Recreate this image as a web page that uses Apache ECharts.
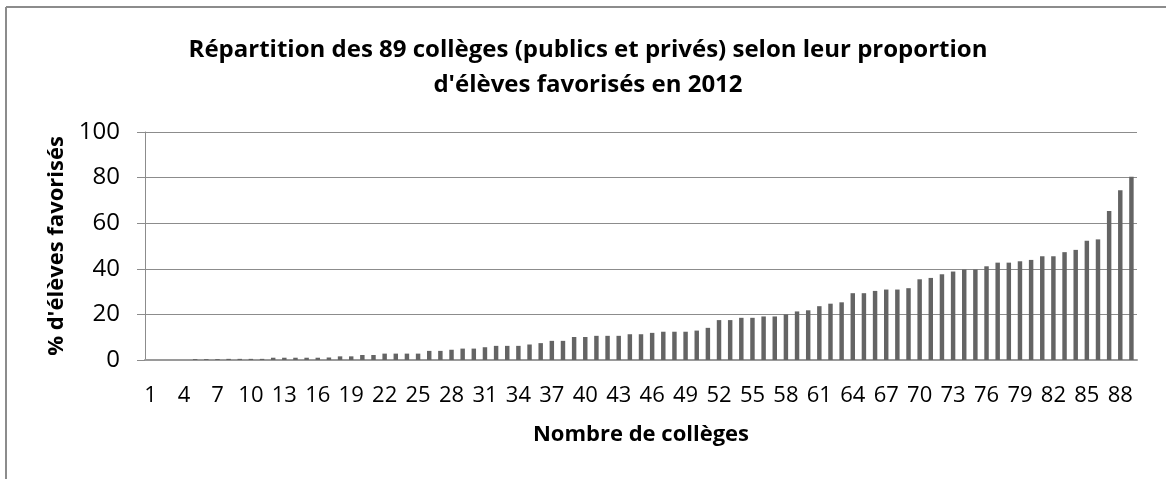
<!DOCTYPE html>
<html>
<head>
<meta charset="utf-8">
<script src="https://cdn.jsdelivr.net/npm/echarts@6/dist/echarts.min.js"></script>
<style>
html,body{margin:0;padding:0;background:#fff;}
#chart{width:1166px;height:479px;}
</style>
</head>
<body>
<div id="chart"></div>
<script>
const categories = [];
for (let i = 1; i <= 89; i++) categories.push(String(i));

const values = [
  0, 0, 0, 0, 0.4, 0.4, 0.4, 0.5, 0.5, 0.5,
  0.5, 1.0, 1.0, 1.0, 1.0, 1.0, 1.1, 1.6, 1.6, 2.2,
  2.2, 2.8, 2.8, 2.8, 2.8, 4.0, 4.0, 4.5, 5.0, 5.0,
  5.6, 6.2, 6.2, 6.2, 6.8, 7.4, 8.4, 8.4, 10.1, 10.1,
  10.6, 10.6, 10.6, 11.3, 11.3, 11.9, 12.4, 12.4, 12.4, 12.9,
  14.1, 17.5, 17.5, 18.5, 18.5, 19.1, 19.1, 20.0, 21.3, 21.8,
  23.6, 24.7, 25.3, 29.3, 29.3, 30.3, 30.9, 30.9, 31.5, 35.4,
  36.0, 37.6, 38.8, 39.7, 39.7, 41.1, 42.7, 42.7, 43.3, 43.9,
  45.5, 45.5, 47.3, 48.3, 52.3, 52.9, 65.4, 74.4, 80.4
];

const titleText = "Répartition des 89 collèges (publics et privés) selon leur proportion\nd'élèves favorisés en 2012";
const xAxisName = "Nombre de collèges";
const yAxisName = "% d'élèves favorisés";

const chart = echarts.init(document.getElementById('chart'), null, {renderer: 'canvas'});
const font = '"Open Sans", sans-serif';
chart.setOption({
  animation: false,
  backgroundColor: '#fff',
  title: {
    text: titleText,
    left: 583,
    textAlign: 'center',
    top: 28,
    textStyle: {fontFamily: font, fontSize: 24, fontWeight: 'bold', color: '#000', lineHeight: 35}
  },
  graphic: [
    {type: 'line', shape: {x1: 6, y1: 7, x2: 1166, y2: 7}, style: {stroke: '#8c8c8c', lineWidth: 2}},
    {type: 'line', shape: {x1: 6, y1: 7, x2: 6, y2: 479}, style: {stroke: '#8c8c8c', lineWidth: 2}}
  ],
  grid: {left: 145, right: 29, top: 132, bottom: 119, containLabel: false},
  xAxis: {
    type: 'category',
    data: categories,
    name: xAxisName,
    nameLocation: 'middle',
    nameGap: 64,
    nameTextStyle: {fontFamily: font, fontSize: 22, fontWeight: 'bold', color: '#000'},
    axisLine: {lineStyle: {color: '#9a9a9a', width: 2}},
    axisTick: {show: false},
    axisLabel: {interval: 2, fontFamily: font, fontSize: 22, color: '#000', margin: 25},
    splitLine: {show: false}
  },
  yAxis: {
    type: 'value',
    min: 0, max: 100, interval: 20,
    name: yAxisName,
    nameLocation: 'middle',
    nameGap: 76,
    nameTextStyle: {fontFamily: font, fontSize: 22, fontWeight: 'bold', color: '#000'},
    axisLine: {show: true, lineStyle: {color: '#8c8c8c', width: 1}},
    axisTick: {show: true, length: 8, lineStyle: {color: '#8c8c8c'}},
    axisLabel: {fontFamily: font, fontSize: 24, color: '#000', margin: 25},
    splitLine: {lineStyle: {color: '#8c8c8c', width: 1}}
  },
  series: [{
    type: 'bar',
    data: values,
    barWidth: '40%',
    itemStyle: {color: '#646464'}
  }]
});
</script>
</body>
</html>
